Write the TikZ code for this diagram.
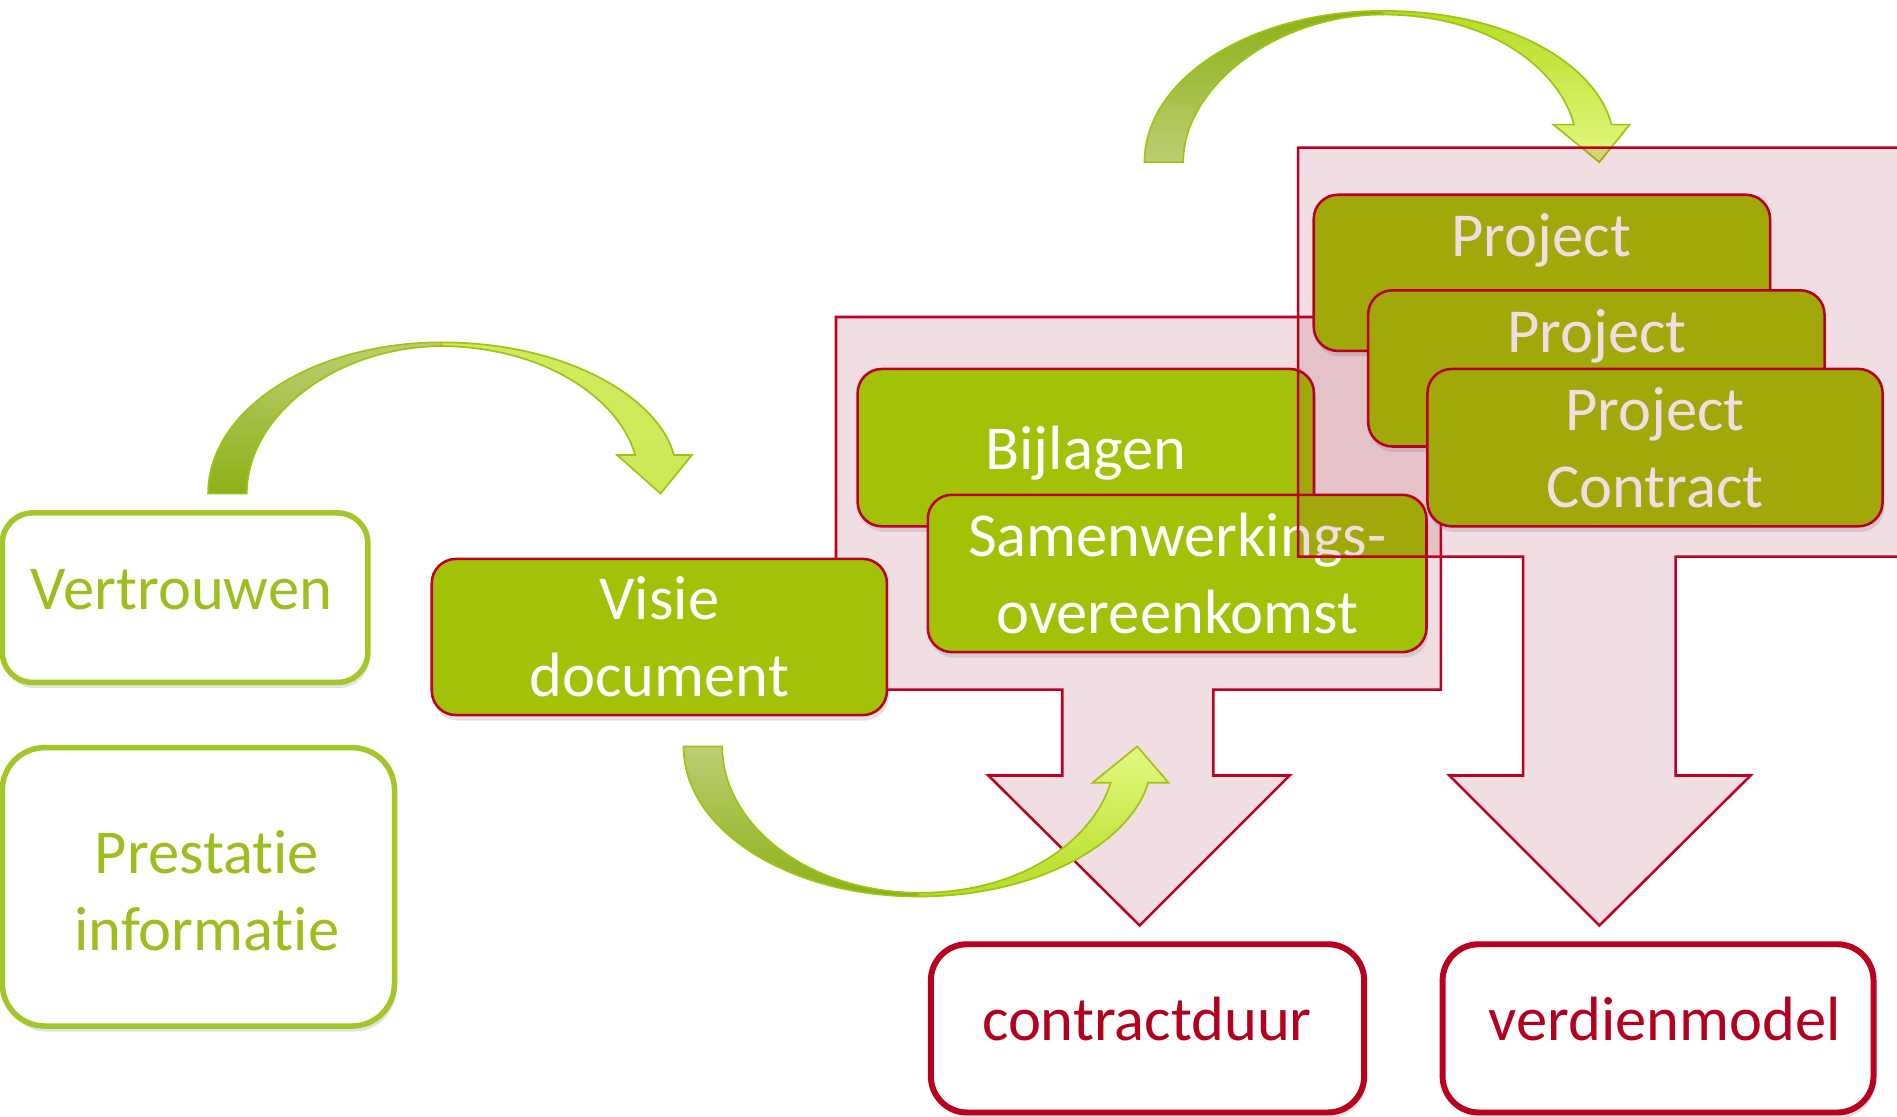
\documentclass[tikz,border=0pt]{standalone}
\usepackage{fontspec}
\setmainfont{Carlito}[Ligatures={NoCommon}]
\usetikzlibrary{shadows}
\definecolor{gfill}{RGB}{162,194,8}
\definecolor{gline}{RGB}{165,198,40}
\definecolor{gtext}{RGB}{157,190,30}
\definecolor{rline}{RGB}{192,0,35}
\definecolor{rthick}{RGB}{185,0,30}
\definecolor{rtext}{RGB}{178,0,30}
\definecolor{pinkov}{RGB}{150,0,30}
\definecolor{arrline}{RGB}{160,195,20}
\definecolor{aLlight}{RGB}{188,206,115}
\definecolor{aLdark}{RGB}{140,177,22}
\definecolor{aRbright}{RGB}{182,220,35}
\definecolor{aRpale}{RGB}{228,248,130}
\definecolor{aRmid}{RGB}{208,234,95}
\begin{document}
\begin{tikzpicture}[x=0.01cm,y=-0.01cm,
  txt/.style={font=\fontsize{14.7}{18.2}\selectfont, align=center, inner sep=0pt},
  shad/.style={drop shadow={shadow xshift=0.4pt,shadow yshift=-1.3pt,opacity=0.22}},
  gbox/.style={draw=rline, line width=0.6pt, fill=gfill, rounded corners=0.2cm, text=white, txt, shad},
  obox/.style={draw=gline, line width=1.3pt, fill=white, rounded corners=0.25cm, shad},
  rbox/.style={draw=rthick, line width=1.4pt, fill=white, rounded corners=0.3cm, shad},
  bigarrow/.style={draw=rline, line width=0.6pt, fill=pinkov, fill opacity=0.13},
  band/.style={draw=arrline, line width=0.4pt},
]
\useasboundingbox (0,0) rectangle (1568,923);
\clip (0,0) rectangle (1568,923);

% curved arrow top-left
\shadedraw[band, top color=aLlight, bottom color=aLdark]
  (172,408) .. controls (172,339) and (258,283) .. (365,283)
  -- (365,286) .. controls (275,287) and (204,345) .. (204,408) -- cycle;
\shadedraw[band, top color=aRmid, bottom color=aRmid!85!aRbright]
  (365,283) .. controls (470,283) and (545,330) .. (557,376)
  -- (572,376) -- (546,408) -- (510,376) -- (525,376)
  .. controls (513,333) and (455,287) .. (365,286) -- cycle;

% outline boxes left
\node[obox, minimum width=3.02cm, minimum height=1.40cm] (vert) at (153,494) {};
\node[txt, text=gtext] (vertt) at (150,487) {Vertrouwen};
\node[obox, rounded corners=0.35cm, minimum width=3.24cm, minimum height=2.30cm] (prest) at (164,733) {};
\node[txt, text=gtext] (prestt) at (171,736) {Prestatie\\informatie};

% big pink arrow 1
\path[bigarrow] (691,262) -- (1191,262) -- (1191,570) -- (1003,570) -- (1003,641)
  -- (1066,641) -- (942,765) -- (817,641) -- (878,641) -- (878,570) -- (691,570) -- cycle;

% green boxes
\node[gbox, minimum width=3.76cm, minimum height=1.29cm] (visie) at (545,526.5) {Visie\\document};
\node[gbox, text depth=0pt, minimum width=3.77cm, minimum height=1.30cm] (bijl) at (897.5,370) {Bijlagen};
\node[gbox, minimum width=4.12cm, minimum height=1.30cm] (samen) at (973,474) {Samenwerkings-\\overeenkomst};
\node[gbox, minimum width=3.77cm, minimum height=1.29cm] (p1) at (1274.5,225.5) {};
\node[txt, text=white] (p1t) at (1274,199) {Project};
\node[gbox, minimum width=3.77cm, minimum height=1.29cm] (p2) at (1319.5,304.5) {};
\node[txt, text=white] (p2t) at (1320,278) {Project};
\node[gbox, minimum width=3.76cm, minimum height=1.30cm] (p3) at (1368,370) {Project\\Contract};

% curved arrow top-right
\shadedraw[band, top color=aLdark, bottom color=aLlight]
  (946,134) .. controls (946,65) and (1034,9) .. (1143,9)
  -- (1143,12) .. controls (1055,12) and (978,72) .. (978,134) -- cycle;
\shadedraw[band, top color=aRbright, bottom color=aRpale]
  (1143,9) .. controls (1250,9) and (1320,55) .. (1332,103)
  -- (1347,103) -- (1322,134) -- (1284,103) -- (1301,103)
  .. controls (1290,60) and (1235,12) .. (1143,12) -- cycle;

% big pink arrow 2
\path[bigarrow] (1073,122) -- (1571,122) -- (1571,460) -- (1385,460) -- (1385,641)
  -- (1447,641) -- (1322,765) -- (1198,641) -- (1259,641) -- (1259,460) -- (1073,460) -- cycle;

% curved arrow bottom
\shadedraw[band, top color=aLlight, bottom color=aLdark]
  (565,617) .. controls (565,686) and (652,741) .. (759,741)
  -- (759,738) .. controls (665,737) and (597,680) .. (597,617) -- cycle;
\shadedraw[band, top color=aRpale, bottom color=aRbright]
  (759,741) .. controls (860,741) and (935,695) .. (949,647)
  -- (966,647) -- (940,617) -- (903,647) -- (918,647)
  .. controls (905,690) and (850,738) .. (759,738) -- cycle;

% bottom boxes
\node[rbox, minimum width=3.58cm, minimum height=1.39cm] (cduur) at (948.5,850) {};
\node[txt, text=rtext] (cduurt) at (948,842) {contractduur};
\node[rbox, minimum width=3.56cm, minimum height=1.39cm] (verd) at (1370.5,850) {};
\node[txt, text=rtext] (verdt) at (1376,842) {verdienmodel};
\end{tikzpicture}
\end{document}
